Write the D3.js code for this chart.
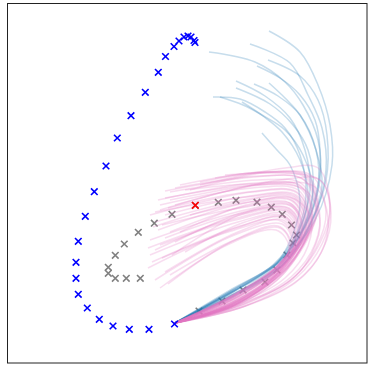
<!DOCTYPE html>
<html>
<head>
<meta charset="utf-8">
<script src="https://cdn.jsdelivr.net/npm/d3@7"></script>
<style>
  html, body { margin: 0; padding: 0; background: #fff; }
  svg { display: block; }
</style>
</head>
<body>
<svg id="chart" width="370" height="370"></svg>
<script>
// ---- data (scene units, origin at current position) ----
const historyX = [2.0, 1.9, 1.6, 1.3, 0.9, 0.4, -0.1, -0.95, -1.67, -2.97, -4.4, -5.77, -6.9, -8.07, -8.97, -9.67, -9.9, -9.9, -9.67, -8.77, -7.57, -6.2, -4.57, -2.6, -0.05];
const historyY = [28.05, 28.25, 28.6, 28.7, 28.6, 28.2, 27.65, 26.65, 25.07, 23.07, 20.73, 18.5, 15.7, 13.13, 10.67, 8.17, 6.07, 4.47, 2.87, 1.5, 0.37, -0.3, -0.63, -0.63, -0.1];

const futureX = [2.4, 4.7, 6.8, 9.0, 10.2, 11.2, 11.8, 12.15, 11.65, 10.73, 9.63, 8.2, 6.1, 4.33, 2.03, -0.3, -2.07, -3.67, -5.07, -5.97, -6.67, -6.67, -5.97, -4.87, -3.47];
const futureY = [1.2, 2.2, 3.3, 4.1, 5.3, 6.8, 8.0, 8.8, 9.8, 10.87, 11.58, 12.08, 12.27, 12.07, 11.77, 10.87, 9.98, 9.07, 7.9, 6.77, 5.57, 4.97, 4.47, 4.47, 4.47];

const highlightX = [2.03];
const highlightY = [11.77];

const blueTracks = [
 [[0,0],[6.1,3.3],[10.9,6.4],[14.0,10.3],[15.7,15.8],[15.5,19.8],[14.3,23.8],[12.5,27.1],[9.4,29.2]],
 [[0,0],[6.0,2.8],[10.8,5.8],[13.7,10.1],[15.1,15.3],[14.7,19.5],[13.3,22.8],[11.5,26.0],[7.5,27.9]],
 [[0,0],[5.9,3.2],[10.5,6.2],[13.1,9.8],[14.5,14.3],[14.3,18.3],[12.8,21.8],[11.0,24.1],[8.0,26.1],[3.4,27.1]],
 [[0,0],[6.0,2.9],[10.7,5.8],[13.5,9.9],[15.1,14.3],[15.2,18.8],[14.3,22.3],[12.5,24.7],[9.3,26.3]],
 [[0,0],[5.9,3.4],[10.5,6.3],[13.0,9.8],[14.3,13.8],[14.5,17.3],[14.0,20.3],[12.5,22.8],[10.5,24.5],[8.2,25.7]],
 [[0,0],[5.7,2.8],[10.1,5.5],[12.5,9.5],[13.5,13.3],[13.0,17.3],[11.5,20.5],[9.0,22.7],[6.1,24.2]],
 [[0,0],[5.8,3.1],[10.2,6.0],[12.7,9.4],[13.8,13.3],[13.3,17.3],[11.8,19.8],[9.5,21.9],[6.1,23.5]],
 [[0,0],[5.9,3.3],[10.4,6.1],[13.0,9.6],[14.3,13.5],[14.1,17.3],[12.5,20.8],[10.3,22.7],[7.9,23.9]],
 [[0,0],[6.0,2.7],[10.7,5.7],[13.5,9.9],[14.7,13.8],[14.1,17.3],[12.5,20.8],[11.0,22.5],[9.4,24.0]],
 [[0,0],[5.6,3.2],[9.8,5.8],[12.2,9.1],[13.1,12.8],[12.5,16.8],[11.0,19.5],[9.0,21.1],[6.5,22.4],[3.8,22.6]],
 [[0,0],[5.8,2.9],[10.3,5.6],[12.8,9.4],[13.8,13.1],[12.8,16.8],[11.0,19.3],[8.7,20.8],[6.8,21.8],[4.5,22.6]],
 [[0,0],[5.7,3.4],[10.0,5.9],[12.4,9.2],[13.3,12.8],[12.5,16.3],[10.7,19.1],[8.8,20.7],[6.7,22.1]],
 [[0,0],[5.5,3.0],[9.7,5.4],[11.8,8.9],[12.5,12.3],[11.5,15.8],[10.2,17.3],[8.7,19.0]]
];

const pinkTracks = [
 [[0,0],[5.5,1.8],[9.7,4.7],[11.5,7.8],[10.5,9.5],[6.0,8.3],[-1.5,3.5]],
 [[0,0],[5.6,2.6],[9.9,5.3],[11.7,8.1],[10.7,9.9],[5.7,8.7],[-2.0,4.3]],
 [[0,0],[5.7,1.9],[10.1,5.0],[11.9,8.3],[10.8,10.3],[6.3,9.1],[-1.0,5.1]],
 [[0,0],[5.5,2.4],[9.8,5.2],[11.6,7.9],[10.3,9.7],[5.5,8.1],[-0.5,4.8]],
 [[0,0],[5.8,1.7],[10.2,4.9],[12.1,8.5],[11.0,10.6],[6.5,9.7],[-2.3,6.1]],
 [[0,0],[5.7,2.7],[10.0,5.5],[11.8,8.2],[10.6,10.2],[5.3,9.1],[-1.3,6.5]],
 [[0,0],[5.9,2.0],[10.4,5.1],[12.5,8.9],[11.3,11.3],[6.5,10.8],[-2.0,7.3]],
 [[0,0],[5.8,2.8],[10.3,5.8],[12.3,8.7],[11.2,11.1],[6.0,10.3],[-1.5,7.8]],
 [[0,0],[6.0,1.8],[10.5,5.0],[12.7,9.1],[11.5,11.8],[7.0,11.3],[-2.5,8.3]],
 [[0,0],[5.9,2.5],[10.4,5.6],[12.6,9.0],[11.4,11.5],[6.3,10.9],[-1.0,8.5]],
 [[0,0],[6.1,2.1],[10.7,5.3],[13.0,9.5],[11.7,12.3],[7.0,12.0],[-1.7,9.3]],
 [[0,0],[6.0,2.9],[10.6,6.0],[12.8,9.3],[11.5,12.0],[6.7,11.6],[-0.5,9.1]],
 [[0,0],[6.1,1.9],[10.8,5.2],[13.1,9.7],[11.9,12.6],[7.3,12.4],[-2.0,10.1]],
 [[0,0],[6.2,2.6],[10.9,5.9],[13.3,9.9],[12.1,12.8],[7.5,12.7],[-1.0,10.8]],
 [[0,0],[5.9,2.2],[10.5,5.3],[12.7,9.2],[11.6,11.7],[6.9,11.1],[0.0,8.1]],
 [[0,0],[6.1,2.8],[10.7,6.0],[12.9,9.4],[11.7,12.2],[7.1,11.8],[0.5,9.1]],
 [[0,0],[6.3,2.0],[11.1,5.4],[13.5,10.1],[12.3,13.3],[7.7,13.5],[-1.5,11.8]],
 [[0,0],[6.3,2.6],[11.1,6.1],[13.6,10.3],[12.5,13.5],[8.0,13.8],[-1.0,12.5]],
 [[0,0],[6.4,2.2],[11.3,5.7],[13.8,10.5],[12.7,13.9],[8.3,14.3],[-0.5,13.1]],
 [[0,0],[6.5,2.7],[11.4,6.4],[14.0,10.8],[12.9,14.3],[8.5,14.7],[0.0,13.5]],
 [[0,0],[6.4,1.9],[11.2,5.3],[13.7,10.4],[12.5,13.7],[7.5,13.9],[1.0,13.3]],
 [[0,0],[6.5,2.4],[11.5,6.0],[14.1,11.0],[13.1,14.5],[8.7,15.0],[2.5,14.1]],
 [[0,0],[6.6,2.8],[11.6,6.6],[14.3,11.3],[13.3,14.7],[9.0,15.1],[4.0,14.5]],
 [[0,0],[6.3,1.8],[11.0,5.1],[13.4,10.0],[12.2,13.0],[7.7,13.1],[-2.5,10.8]],
 [[0,0],[6.9,1.9],[11.9,4.6],[14.5,8.0],[15.5,11.8],[14.3,15.5],[11.0,15.5],[2.5,13.8]],
 [[0,0],[6.8,1.8],[11.7,4.4],[14.1,7.5],[15.1,11.1],[13.7,14.7],[9.5,15.1],[1.5,13.3]],
 [[0,0],[7.0,1.7],[12.1,4.5],[14.7,7.9],[15.5,11.3],[14.5,14.3],[10.5,14.3],[0.0,11.8]],
 [[0,0],[6.7,2.0],[11.5,4.2],[13.7,7.0],[14.5,10.3],[13.0,13.3],[8.5,13.8],[-1.5,11.3]],
 [[0,0],[5.6,2.0],[10.0,4.9],[12.0,8.3],[10.9,10.5],[6.1,9.5],[-2.7,5.5]],
 [[0,0],[5.8,2.7],[10.2,5.7],[12.2,8.6],[11.1,10.9],[6.3,10.1],[-2.5,6.8]],
 [[0,0],[6.0,1.8],[10.6,5.1],[12.8,9.3],[11.6,11.9],[6.5,11.5],[-1.3,9.8]],
 [[0,0],[6.2,2.3],[11.0,5.7],[13.4,10.1],[12.2,13.1],[7.3,13.1],[-0.7,11.5]],
 [[0,0],[6.1,2.9],[10.8,6.1],[13.1,9.6],[11.9,12.4],[7.5,12.1],[1.5,10.8]],
 [[0,0],[5.7,1.7],[10.1,4.8],[12.1,8.4],[11.0,10.7],[7.0,10.1],[1.0,7.1]],
 [[0,0],[6.3,2.1],[11.2,5.5],[13.7,10.4],[12.6,13.7],[8.1,14.0],[-1.7,12.3]],
 [[0,0],[5.9,2.6],[10.4,5.6],[12.5,8.9],[11.4,11.4],[6.7,10.9],[-0.3,6.8]],
 [[0,0],[5.5,2.0],[9.7,4.8],[11.4,7.6],[10.1,9.3],[5.0,7.7],[-0.7,3.9]],
 [[0,0],[6.6,2.2],[11.6,5.9],[14.2,11.1],[13.2,14.6],[8.8,15.1],[0.5,13.8]],
 [[0,0],[6.2,2.8],[10.9,6.1],[13.2,9.8],[12.0,12.7],[7.2,12.6],[-2.0,11.1]],
 [[0,0],[5.8,1.9],[10.3,5.0],[12.4,8.8],[11.3,11.2],[6.2,10.5],[-2.7,7.5]],
 [[0,0],[7.0,1.7],[12.3,4.3],[14.8,7.4],[15.6,11.0],[14.6,14.2],[11.0,15.0],[5.0,14.8]],
 [[0,0],[6.8,1.6],[12.0,4.0],[14.6,7.0],[15.3,10.5],[14.0,13.6],[10.0,14.0],[-0.5,12.3]],
 [[0,0],[6.5,1.8],[11.6,4.6],[14.0,7.9],[14.4,11.5],[12.8,14.4],[8.0,14.6],[-1.0,13.2]],
 [[0,0],[6.2,1.9],[11.0,4.5],[13.3,7.7],[13.5,10.8],[11.5,12.6],[6.0,12.0],[-2.2,9.6]]
];

const xDomain = [-16.75, 19.2];
const yDomain = [-4.0, 31.95];

// ---- drawing ----
const svg = d3.select("#chart");
const x = d3.scaleLinear().domain(xDomain).range([7.5, 367]);
const y = d3.scaleLinear().domain(yDomain).range([363, 3.5]);

const line = d3.line()
  .x(d => x(d[0]))
  .y(d => y(d[1]))
  .curve(d3.curveCatmullRom.alpha(0.5));

const toPts = (xs, ys) => xs.map((v, i) => [v, ys[i]]);
const xMark = "M-3.3,-3.3L3.3,3.3M-3.3,3.3L3.3,-3.3";

function drawMarkers(pts, color) {
  svg.append("g").selectAll("path")
    .data(pts).join("path")
    .attr("d", xMark)
    .attr("transform", d => `translate(${x(d[0])},${y(d[1])})`)
    .attr("fill", "none")
    .attr("stroke", color)
    .attr("stroke-width", 1.6);
}

// gray future markers (under the lines)
drawMarkers(toPts(futureX, futureY), "#808080");

// blue predicted tracks
svg.append("g").selectAll("path")
  .data(blueTracks).join("path")
  .attr("d", line)
  .attr("fill", "none")
  .attr("stroke", "#1f77b4")
  .attr("stroke-opacity", 0.25)
  .attr("stroke-width", 1.5);

// pink predicted tracks
svg.append("g").selectAll("path")
  .data(pinkTracks).join("path")
  .attr("d", line)
  .attr("fill", "none")
  .attr("stroke", "#e377c2")
  .attr("stroke-opacity", 0.25)
  .attr("stroke-width", 1.5);

drawMarkers(toPts(highlightX, highlightY), "#ff0000");
drawMarkers(toPts(historyX, historyY), "#0000ff");

// frame
svg.append("rect")
  .attr("x", x.range()[0]).attr("y", y.range()[1])
  .attr("width", x.range()[1] - x.range()[0])
  .attr("height", y.range()[0] - y.range()[1])
  .attr("fill", "none")
  .attr("stroke", "#222")
  .attr("stroke-width", 1);
</script>
</body>
</html>
